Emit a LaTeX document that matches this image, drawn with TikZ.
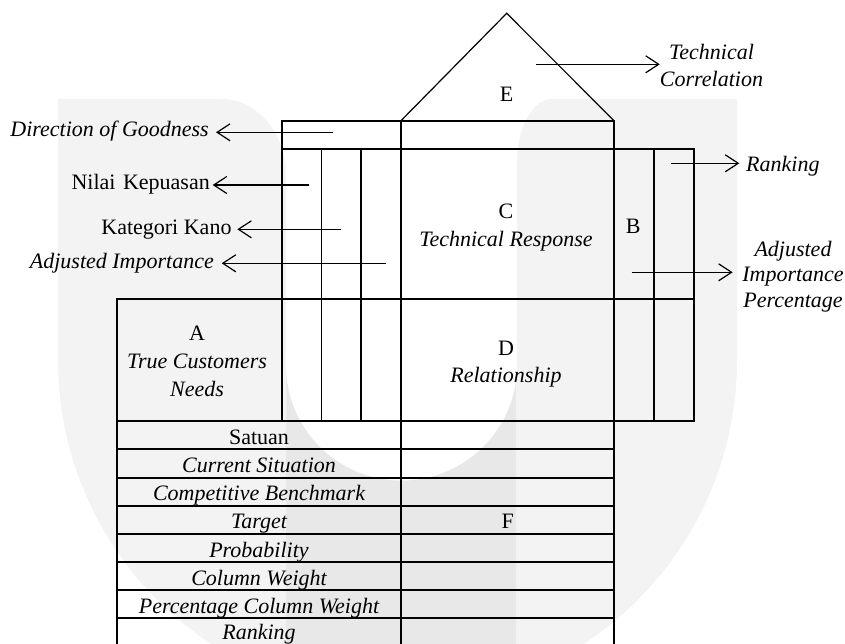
\documentclass[tikz,border=0pt]{standalone}
\usepackage{fontspec}
\setmainfont{Liberation Serif}
\usetikzlibrary{arrows.meta}
\definecolor{wmlight}{gray}{0.953}
\definecolor{wmdark}{gray}{0.91}
\begin{document}
\begin{tikzpicture}[x=1pt,y=-1pt,
  grid/.style={line width=1.8pt, line cap=rect},
  roof/.style={line width=1.2pt, line join=miter},
  lbl/.style={inner sep=0pt, font=\fontsize{22}{26}\selectfont, text height=16pt, text depth=2pt},
  ilbl/.style={lbl, font=\fontsize{22}{26}\selectfont\itshape},
  multi/.style={inner sep=0pt, align=center},
  pointer/.style={line width=1.2pt, -{Straight Barb[length=13pt,width=17pt]}},
]
\useasboundingbox (0,0) rectangle (845,644);
\clip (0,0) rectangle (845,644);

% faint background watermark
\fill[wmlight] (58,99) -- (221,99) .. controls (257,99) and (286,133) .. (286,175) -- (286,361) -- (58,361) -- cycle;
\fill[wmlight] (737,99) -- (552,99) .. controls (533,99) and (517,127) .. (517,163) -- (517,361) -- (737,361) -- cycle;
\begin{scope}
  \clip (0,360) rectangle (845,644);
  \fill[wmlight] (397.5,360) circle (339.5);
\end{scope}
\fill[wmdark] (286,365) rectangle (516,644);
\fill[white] (401.5,365) circle (115.5);

% roof
\draw[roof] (400.7,121) -- (506.7,13.3) -- (614.3,121);

% grid
\draw[grid] (281.7,121) -- (614.3,121);
\draw[grid] (281.7,121) -- (281.7,421);
\draw[grid] (400.7,121) -- (400.7,650);
\draw[grid] (614.3,121) -- (614.3,650);
\draw[grid] (281.7,149) -- (693.7,149);
\draw[grid] (693.7,149) -- (693.7,421);
\draw[grid] (654,149) -- (654,421);
\draw[grid] (321.5,149) -- (321.5,421);
\draw[grid] (361,149) -- (361,421);
\draw[grid] (117,299) -- (693.7,299);
\draw[grid] (117,421) -- (693.7,421);
\draw[grid] (117,299) -- (117,650);
\foreach \yy in {449.3,477.7,505.7,534,562,590.3,618.3}
  \draw[grid] (117,\yy) -- (614.3,\yy);

% labels inside
\node[lbl] (e) at (506.7,94.7) {E};
\node[lbl] (b) at (633.3,226.3) {B};
\node[multi, font=\fontsize{22}{28}\selectfont] (c) at (506,227.4) {C\\\textit{Technical Response}};
\node[multi, font=\fontsize{22}{28}\selectfont] (a) at (197,361) {A\\\textit{True Customers}\\\textit{Needs}};
\node[multi, font=\fontsize{22}{27.4}\selectfont] (d) at (506,364) {D\\\textit{Relationship}};
\node[lbl] (f) at (507.7,521.3) {F};

% table rows
\node[lbl]  (r1) at (259,437.2) {Satuan};
\node[ilbl] (r2) at (259,465.5) {Current Situation};
\node[ilbl] (r3) at (259,493.7) {Competitive Benchmark};
\node[ilbl] (r4) at (259,521.9) {Target};
\node[ilbl] (r5) at (259,550) {Probability};
\node[ilbl] (r6) at (259,578.2) {Column Weight};
\node[ilbl] (r7) at (259,606.3) {Percentage Column Weight};
\node[ilbl] (r8) at (259,632.3) {Ranking};

% outside labels
\node[ilbl, anchor=east] (dog) at (209,129.7) {Direction of Goodness};
\node[lbl, anchor=east] (nk) at (210,183) {Nilai\hspace{2pt} Kepuasan};
\node[lbl, anchor=east] (kk) at (231.7,227) {Kategori Kano};
\node[ilbl, anchor=east] (ai) at (214,261.3) {Adjusted Importance};
\node[ilbl, anchor=west] (rk) at (746,164.7) {Ranking};
\node[multi, font=\fontsize{22}{26.7}\selectfont\itshape] (tc) at (711.5,65.5) {Technical\\Correlation};
\node[multi, font=\fontsize{22}{25.5}\selectfont\itshape] (aip) at (793,276.5) {Adjusted\\Importance\\Percentage};

% arrow starts
\coordinate (s-tc) at (536,64.3);
\coordinate (s-dog) at (333,132.3);
\coordinate (s-rk) at (671,163.3);
\coordinate (s-nk) at (309.3,185);
\coordinate (s-kk) at (341,229.3);
\coordinate (s-ai) at (386,263.3);
\coordinate (s-aip) at (631.7,272.3);

\draw[pointer] (s-tc) -- (s-tc -| tc.west);
\draw[pointer, shorten >=7pt] (s-dog) -- (s-dog -| dog.east);
\draw[pointer, shorten >=6.7pt] (s-rk) -- (s-rk -| rk.west);
\draw[pointer, shorten >=2.7pt] (s-nk) -- (s-nk -| nk.east);
\draw[pointer, shorten >=5.6pt] (s-kk) -- (s-kk -| kk.east);
\draw[pointer, shorten >=7.7pt] (s-ai) -- (s-ai -| ai.east);
\draw[pointer, shorten >=9.4pt] (s-aip) -- (s-aip -| aip.west);
\end{tikzpicture}
\end{document}
